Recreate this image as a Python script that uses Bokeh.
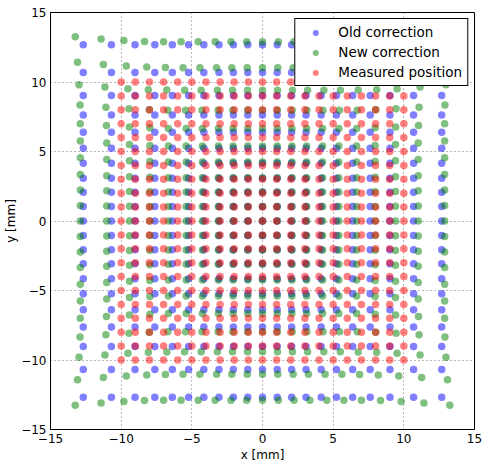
from bokeh.plotting import figure
from bokeh.models import FixedTicker, Legend, LegendItem
from bokeh.embed import file_html
from bokeh.resources import INLINE

# ---- data ----
# measured grid positions (mm) along each axis
measured_axis = [-10, -9, -8, -7, -6, -5, -4, -3, -2, -1, 0,
                 1, 2, 3, 4, 5, 6, 7, 8, 9, 10]
# old correction: rectilinear grid, coordinate for each grid index
old_corr_axis = [-12.68, -10.69, -9.02, -7.62, -6.38, -5.23, -4.15, -3.08, -2.06, -1.04, 0.0,
                 1.04, 2.06, 3.08, 4.15, 5.23, 6.38, 7.62, 9.02, 10.69, 12.68]
# new correction: coordinate along one axis for |index| a (row) given |other index| b (column)
new_corr_half = [
    [0.00, 0.00, 0.00, 0.00, 0.00, 0.00, 0.00, 0.00, 0.00, 0.00, 0.00],
    [1.04, 1.04, 1.04, 1.04, 1.04, 1.04, 1.04, 1.05, 1.06, 1.08, 1.12],
    [2.08, 2.08, 2.08, 2.08, 2.08, 2.08, 2.08, 2.10, 2.12, 2.17, 2.23],
    [3.12, 3.12, 3.12, 3.12, 3.12, 3.12, 3.12, 3.14, 3.19, 3.25, 3.35],
    [4.25, 4.25, 4.25, 4.25, 4.25, 4.25, 4.25, 4.28, 4.34, 4.43, 4.55],
    [5.40, 5.40, 5.40, 5.40, 5.40, 5.40, 5.40, 5.44, 5.51, 5.62, 5.76],
    [6.66, 6.66, 6.66, 6.66, 6.66, 6.66, 6.66, 6.70, 6.77, 6.87, 7.00],
    [7.97, 7.97, 7.97, 7.97, 7.97, 7.97, 7.97, 8.01, 8.08, 8.19, 8.35],
    [9.41, 9.41, 9.41, 9.41, 9.41, 9.41, 9.42, 9.45, 9.52, 9.64, 9.81],
    [11.02, 11.02, 11.02, 11.02, 11.02, 11.02, 11.04, 11.08, 11.15, 11.26, 11.42],
    [12.89, 12.89, 12.89, 12.89, 12.89, 12.89, 12.89, 12.91, 12.98, 13.09, 13.25],
]
grid_index = [-10, -9, -8, -7, -6, -5, -4, -3, -2, -1, 0,
              1, 2, 3, 4, 5, 6, 7, 8, 9, 10]
tick_values = [-15, -10, -5, 0, 5, 10, 15]
tick_labels = ["\u221215", "\u221210", "\u22125", "0", "5", "10", "15"]
series_names = ["Old correction", "New correction", "Measured position"]
series_colors = ["#0000ff", "#008000", "#ff0000"]

# ---- build point tables ----
def sgn(v):
    return (v > 0) - (v < 0)

mx, my, ox, oy, nx, ny = [], [], [], [], [], []
for ii, i in enumerate(grid_index):
    for jj, j in enumerate(grid_index):
        mx.append(measured_axis[ii]); my.append(measured_axis[jj])
        ox.append(old_corr_axis[ii]); oy.append(old_corr_axis[jj])
        nx.append(sgn(i) * new_corr_half[abs(i)][abs(j)])
        ny.append(sgn(j) * new_corr_half[abs(j)][abs(i)])

FONT = "DejaVu Sans"
p = figure(width=482, height=464, x_range=(-15, 15), y_range=(-15, 15),
           output_backend="svg", toolbar_location=None,
           min_border_left=50, min_border_right=8, min_border_top=12, min_border_bottom=29)
p.background_fill_color = "white"
p.border_fill_color = "white"
p.outline_line_color = "black"
p.outline_line_width = 1
p.outline_line_alpha = 1

r_old = p.scatter(ox, oy, size=7.5, fill_color=series_colors[0], fill_alpha=0.5, line_color=None)
r_new = p.scatter(nx, ny, size=7.5, fill_color=series_colors[1], fill_alpha=0.5, line_color=None)
r_meas = p.scatter(mx, my, size=7.5, fill_color=series_colors[2], fill_alpha=0.5, line_color=None)

for ax in (p.xaxis[0], p.yaxis[0]):
    ax.ticker = FixedTicker(ticks=tick_values)
    ax.major_label_overrides = dict(zip(tick_values, tick_labels))
    ax.major_tick_in = 0
    ax.major_tick_out = 0
    ax.minor_tick_line_color = None
    ax.axis_line_color = "black"
    ax.major_label_text_font = FONT
    ax.major_label_text_font_size = "12px"
    ax.major_label_text_color = "black"
    ax.axis_label_text_font = FONT
    ax.axis_label_text_font_size = "12px"
    ax.axis_label_text_font_style = "normal"
    ax.axis_label_text_color = "black"
    ax.major_label_standoff = 4
    ax.axis_label_standoff = 2
p.yaxis[0].axis_label_standoff = 0
p.xaxis.axis_label = "x [mm]"
p.yaxis.axis_label = "y [mm]"

for g in (p.xgrid[0], p.ygrid[0]):
    g.ticker = FixedTicker(ticks=tick_values)
    g.grid_line_color = "black"
    g.grid_line_alpha = 0.55
    g.grid_line_dash = "1 3"
    g.grid_line_width = 1

legend = Legend(items=[LegendItem(label=series_names[0], renderers=[r_old]),
                       LegendItem(label=series_names[1], renderers=[r_new]),
                       LegendItem(label=series_names[2], renderers=[r_meas])],
                location="top_right")
legend.margin = 6
legend.padding = 5
legend.spacing = 4
legend.glyph_width = 30
legend.glyph_height = 15
legend.label_height = 15
legend.label_standoff = 8
legend.label_text_font = FONT
legend.label_text_font_size = "13.5px"
legend.label_text_color = "black"
legend.border_line_color = "black"
legend.border_line_width = 1
legend.border_line_alpha = 1
legend.background_fill_color = "white"
legend.background_fill_alpha = 1
p.add_layout(legend)

open("out.html", "w").write(file_html(p, INLINE))
